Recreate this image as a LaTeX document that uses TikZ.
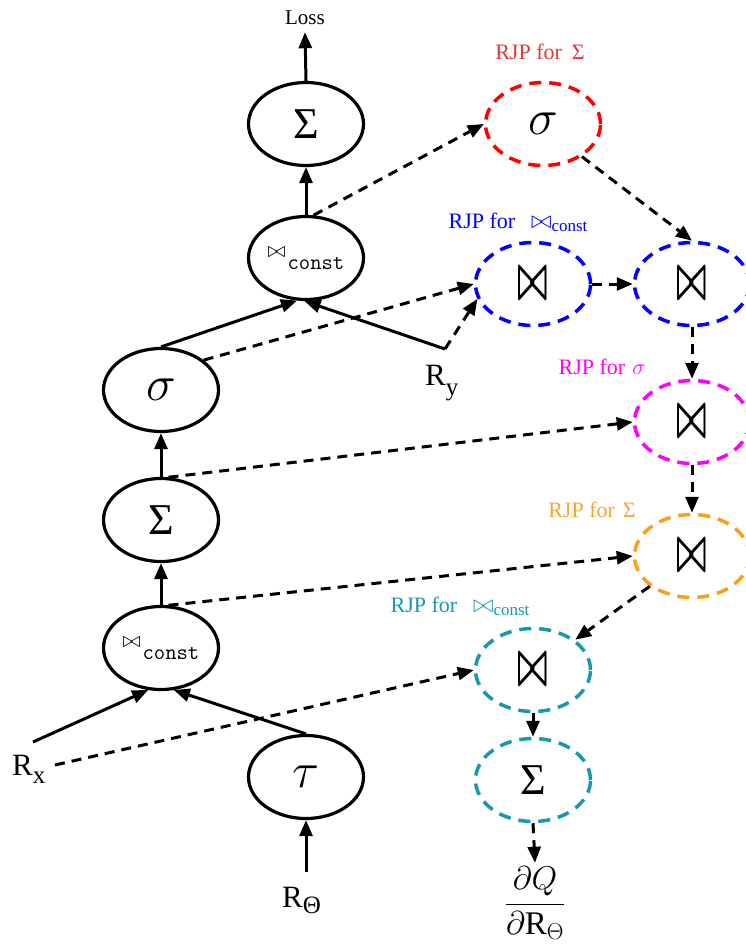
\RequirePackage{fix-cm}
\documentclass[tikz,border=0pt]{standalone}
\usepackage{graphicx}
\usepackage{fontspec}
\setmainfont{Liberation Serif}
\usetikzlibrary{shapes.geometric,arrows.meta}
\definecolor{cred}{RGB}{255,0,0}
\definecolor{credl}{RGB}{228,55,55}
\definecolor{cblue}{RGB}{0,0,255}
\definecolor{cmag}{RGB}{255,0,255}
\definecolor{cora}{RGB}{248,160,30}
\definecolor{coral}{RGB}{245,165,50}
\definecolor{cteal}{RGB}{24,152,168}
\newcommand{\bigjoin}{\scalebox{0.52}[1]{\fontsize{62}{62}\selectfont\boldmath$\bowtie$}}
\newcommand{\constjoin}{\mbox{\fontsize{22}{22}\selectfont$\bowtie$\hspace{2pt}\raisebox{-12pt}{\fontsize{22}{22}\selectfont\ttfamily const}}}
\newcommand{\lbljoin}{{\fontsize{25}{25}\selectfont$\bowtie$}\raisebox{-3pt}{\fontsize{17}{17}\selectfont const}}
\begin{document}
\begin{tikzpicture}[x=1pt,y=-1pt,
  opnode/.style={ellipse, draw, line width=3.2pt, minimum width=115pt, minimum height=83pt, inner sep=0pt},
  rjpnode/.style={ellipse, draw, line width=3.5pt, dash pattern=on 12pt off 8pt, minimum width=115pt, minimum height=83pt, inner sep=0pt},
  arr/.style={line width=3pt, -{Triangle[length=16pt,width=13pt]}},
  darr/.style={arr, dash pattern=on 10pt off 7pt},
  lbl/.style={font=\fontsize{22}{22}\selectfont, inner sep=0pt},
  rlbl/.style={inner sep=0pt, anchor=base west}
]
\useasboundingbox (0,0) rectangle (745,950);

% left column
\node[inner sep=0pt, outer sep=7pt, anchor=base, font=\fontsize{21}{21}\selectfont] (loss) at (305,25) {Loss};
\node[opnode] (topsum) at (306,124) {\fontsize{44}{44}\selectfont Σ};
\node[opnode] (topjoin) at (306,258) {\constjoin};
\node[opnode] (sig) at (161,390) {\fontsize{50}{50}\selectfont$\sigma$};
\node[opnode] (midsum) at (161,520) {\fontsize{44}{44}\selectfont Σ};
\node[opnode] (botjoin) at (161,648) {\constjoin};
\node[opnode] (tau) at (306,777) {\fontsize{50}{50}\selectfont$\tau$};

\node[rlbl] (rxlbl) at (12,775) {\fontsize{31}{31}\selectfont R\raisebox{-8pt}{\fontsize{25}{25}\selectfont x}};
\node[rlbl] (rylbl) at (425,385) {\fontsize{31}{31}\selectfont R\raisebox{-10pt}{\fontsize{25}{25}\selectfont y}};
\node[rlbl] (rthlbl) at (282,907) {\fontsize{31}{31}\selectfont R\raisebox{-6pt}{\fontsize{25}{25}\selectfont Θ}};
\coordinate (rxs) at (33,742);
\coordinate (rxd) at (55,765);
\coordinate (ry) at (445,349);
\coordinate (rth) at (306,872);

% right column
\node[rjpnode, draw=cred] (red) at (543,124) {\fontsize{50}{50}\selectfont$\sigma$};
\node[rjpnode, draw=cblue] (blueL) at (533,284) {\bigjoin};
\node[rjpnode, draw=cblue] (blueR) at (692,284) {\bigjoin};
\node[rjpnode, draw=cmag] (mag) at (692,422) {\bigjoin};
\node[rjpnode, draw=cora] (ora) at (692,556) {\bigjoin};
\node[rjpnode, draw=cteal] (cyj) at (533,670) {\bigjoin};
\node[rjpnode, draw=cteal] (cys) at (533,780) {\fontsize{44}{44}\selectfont Σ};
\node[inner sep=0pt, outer sep=4pt, anchor=base] (frac) at (535,912) {\fontsize{33}{33}\selectfont$\displaystyle\frac{\partial Q}{\partial\mbox{R}_{\Theta}}$};

% RJP labels
\node[lbl, text=credl] (l1) at (540,52) {RJP for\hspace{10pt}Σ};
\node[lbl, text=cblue] (l2) at (518,222) {RJP for\hspace{16pt}\lbljoin};
\node[lbl, text=cmag] (l3) at (602,367) {RJP for\hspace{7pt}$\sigma$};
\node[lbl, text=coral] (l4) at (592,510) {RJP for\hspace{8pt}Σ};
\node[lbl, text=cteal] (l5) at (460,606) {RJP for\hspace{16pt}\lbljoin};

% solid forward edges
\draw[arr] (topsum.north) -- (loss.south);
\draw[arr] (topjoin.north) -- (topsum.south);
\draw[arr] (sig.north) -- (topjoin.258);
\draw[arr] (ry) -- (topjoin.268);
\draw[arr] (midsum.north) -- (sig.south);
\draw[arr] (botjoin.north) -- (midsum.south);
\draw[arr] (rxs) -- (botjoin.253);
\draw[arr] (tau.north) -- (botjoin.287);
\draw[arr] (rth) -- (tau.south);

% dashed backward edges
\draw[darr] (topjoin.80) -- (red.west);
\draw[darr] (red.-40) -- (blueR.north);
\draw[darr] (blueL.east) -- (blueR.west);
\draw[darr] (sig.35) -- (blueL.west);
\draw[darr] (ry) -- (blueL.195);
\draw[darr] (blueR.south) -- (mag.north);
\draw[darr] (midsum.80) -- (mag.west);
\draw[darr] (mag.south) -- (ora.north);
\draw[darr] (botjoin.80) -- (ora.west);
\draw[darr] (ora) -- (cyj);
\draw[darr] (rxd) -- (cyj.west);
\draw[darr] (cyj.south) -- (cys.north);
\draw[darr] (cys.south) -- (frac.north);
\end{tikzpicture}
\end{document}
